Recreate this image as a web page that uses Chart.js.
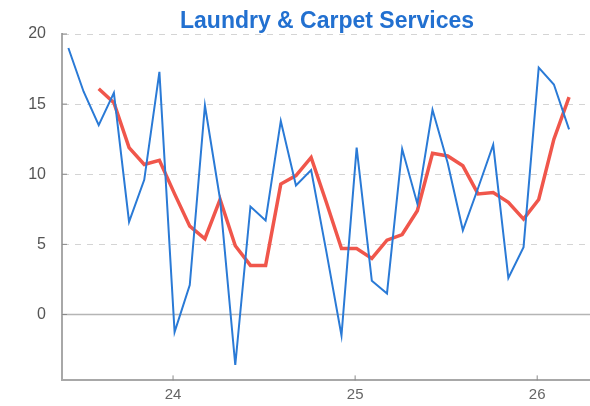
<!DOCTYPE html>
<html>
<head>
<meta charset="utf-8">
<script src="https://cdn.jsdelivr.net/npm/chart.js@4"></script>
<style>
  html, body { margin: 0; padding: 0; background: #fff; }
  #wrap { width: 590px; height: 406px; }
</style>
</head>
<body>
<div id="wrap"><canvas id="chart"></canvas></div>
<script>
// data (monthly points, x in years)
const titleText = 'Laundry & Carpet Services';
const monthIndex = [0,1,2,3,4,5,6,7,8,9,10,11,12,13,14,15,16,17,18,19,20,21,22,23,24,25,26,27,28,29,30,31,32,33];
const monthly = [19.0, 15.9, 13.5, 15.8, 6.6, 9.6, 17.3, -1.25, 2.1, 14.9, 8.2, -3.6, 7.7, 6.7, 13.8, 9.2, 10.3, 4.5, -1.5, 11.9, 2.4, 1.5, 11.8, 7.9, 14.6, 10.8, 6.0, 9.0, 12.1, 2.6, 4.8, 17.6, 16.4, 13.2];
const smoothed = [null, null, 16.1, 15.1, 11.9, 10.7, 11.0, 8.6, 6.3, 5.4, 8.2, 4.9, 3.5, 3.5, 9.3, 9.9, 11.2, 8.0, 4.7, 4.7, 4.0, 5.3, 5.7, 7.4, 11.5, 11.3, 10.6, 8.6, 8.7, 8.0, 6.8, 8.2, 12.5, 15.5];
const xTicks = [24, 25, 26];
const yTicks = [0, 5, 10, 15, 20];
const firstMonth = 23.425;

const toPoints = (vals) => monthIndex.map((i) => ({ x: firstMonth + i / 12, y: vals[i] }));

// title centred on plot, zero line and inward tick marks
const extras = {
  id: 'extras',
  beforeDatasetsDraw(chart) {
    const ctx = chart.ctx;
    const a = chart.chartArea;
    const xs = chart.scales.x, ys = chart.scales.y;
    ctx.save();
    const y0 = ys.getPixelForValue(0);
    ctx.strokeStyle = '#b5b5b5';
    ctx.lineWidth = 1.5;
    ctx.beginPath();
    ctx.moveTo(a.left, y0);
    ctx.lineTo(a.right, y0);
    ctx.stroke();
    ctx.strokeStyle = '#8a8a8a';
    ctx.lineWidth = 1;
    yTicks.forEach((v) => {
      const y = ys.getPixelForValue(v);
      ctx.beginPath();
      ctx.moveTo(a.left, y);
      ctx.lineTo(a.left + 5, y);
      ctx.stroke();
    });
    xTicks.forEach((v) => {
      const x = xs.getPixelForValue(v);
      ctx.beginPath();
      ctx.moveTo(x, a.bottom);
      ctx.lineTo(x, a.bottom - 5);
      ctx.stroke();
    });
    ctx.restore();
  },
  afterDraw(chart) {
    const ctx = chart.ctx;
    const a = chart.chartArea;
    ctx.save();
    ctx.font = 'bold 23px "Liberation Sans", Arial, sans-serif';
    ctx.fillStyle = '#2270d0';
    ctx.textAlign = 'center';
    ctx.textBaseline = 'alphabetic';
    ctx.fillText(titleText, (a.left + a.right) / 2 + 1, 28);
    ctx.restore();
  }
};

new Chart(document.getElementById('chart'), {
  type: 'line',
  data: {
    datasets: [
      {
        label: 'monthly',
        data: toPoints(monthly),
        borderColor: '#2a7ad6',
        borderWidth: 2,
        pointRadius: 0,
        tension: 0
      },
      {
        label: 'smoothed',
        data: toPoints(smoothed),
        borderColor: '#f0564b',
        borderWidth: 3.5,
        pointRadius: 0,
        tension: 0,
        spanGaps: false
      }
    ]
  },
  options: {
    responsive: true,
    maintainAspectRatio: false,
    animation: false,
    layout: { padding: { top: 34, right: 0, left: 0, bottom: 0 } },
    plugins: {
      legend: { display: false },
      title: { display: false },
      tooltip: { enabled: false }
    },
    scales: {
      x: {
        type: 'linear',
        min: 23.39,
        max: 26.29,
        afterBuildTicks: (s) => { s.ticks = xTicks.map((v) => ({ value: v })); },
        afterFit: (s) => { s.height = 24; },
        grid: { display: false, drawTicks: false },
        border: { display: true, color: '#a8a8a8', width: 2 },
        ticks: {
          padding: 5,
          color: '#666',
          font: { family: '"Liberation Sans", Arial, sans-serif', size: 15 }
        }
      },
      y: {
        min: -4.7,
        max: 20,
        afterBuildTicks: (s) => { s.ticks = yTicks.map((v) => ({ value: v })); },
        afterFit: (s) => { s.width = 62; },
        grid: {
          drawTicks: false,
          color: (c) => (c.tick && c.tick.value === 0 ? 'rgba(0,0,0,0)' : '#d4d4d4'),
          lineWidth: 1
        },
        border: { display: true, color: '#a8a8a8', width: 2, dash: [6, 6] },
        ticks: {
          padding: 16,
          color: '#555',
          font: { family: '"Liberation Sans", Arial, sans-serif', size: 16 }
        }
      }
    }
  },
  plugins: [extras]
});
</script>
</body>
</html>
